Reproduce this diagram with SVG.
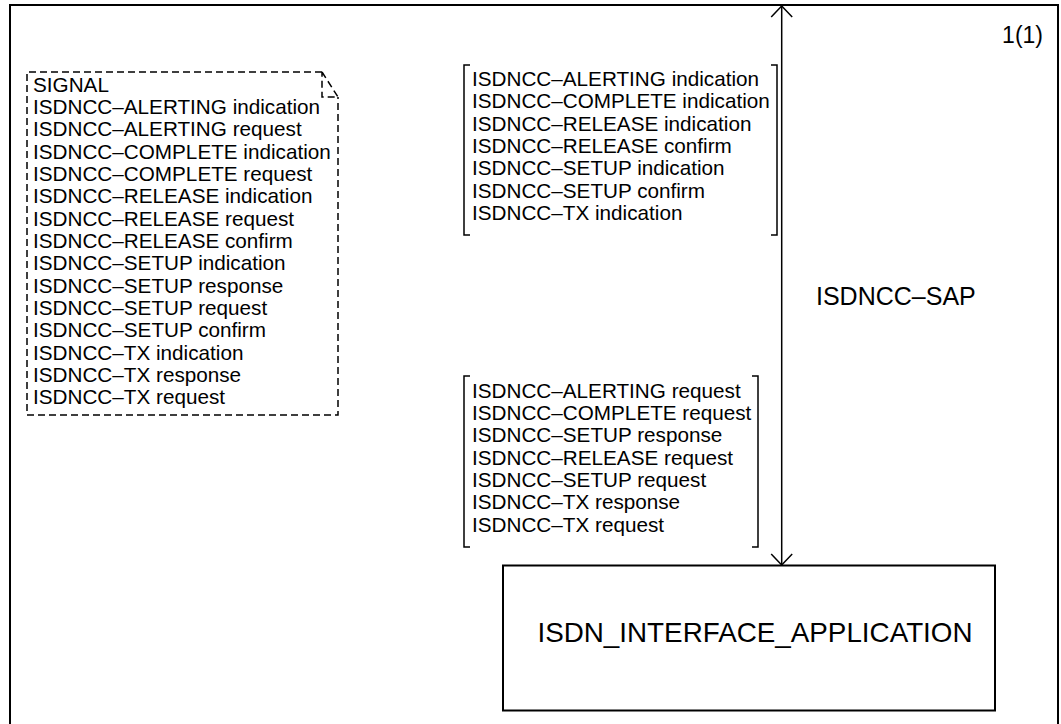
<svg xmlns="http://www.w3.org/2000/svg" width="1061" height="724" viewBox="0 0 1061 724">
<defs>
<style>
text{font-family:"Liberation Sans",Arial,sans-serif;fill:#000}
.l{font-size:20.7px}
.line{fill:none;stroke:#000;stroke-width:1.5}
.dash{fill:none;stroke:#000;stroke-width:1.5;stroke-dasharray:7 4}
</style>
<marker id="open" viewBox="0 0 14 24" refX="13" refY="12" markerWidth="14" markerHeight="24" markerUnits="userSpaceOnUse" orient="auto-start-reverse">
<path d="M2,1.5 L13,12 L2,22.5" fill="none" stroke="#000" stroke-width="1.5"/>
</marker>
</defs>
<rect id="frame" x="10" y="5" width="1048" height="730" fill="#fff" stroke="#000" stroke-width="2"/>
<text x="1043" y="43" font-size="23" text-anchor="end">1(1)</text>
<g id="signal-list">
<path class="dash" d="M322,72 L27,72 L27,415 L338,415 L338,97"/>
<path class="dash" d="M322,72 L338,97 L322,97 L322,72"/>
<text class="l" x="33" y="91.5">SIGNAL</text>
<text class="l" x="33" y="113.8">ISDNCC–ALERTING indication</text>
<text class="l" x="33" y="136.2">ISDNCC–ALERTING request</text>
<text class="l" x="33" y="158.5">ISDNCC–COMPLETE indication</text>
<text class="l" x="33" y="180.8">ISDNCC–COMPLETE request</text>
<text class="l" x="33" y="203.2">ISDNCC–RELEASE indication</text>
<text class="l" x="33" y="225.5">ISDNCC–RELEASE request</text>
<text class="l" x="33" y="247.8">ISDNCC–RELEASE confirm</text>
<text class="l" x="33" y="270.1">ISDNCC–SETUP indication</text>
<text class="l" x="33" y="292.5">ISDNCC–SETUP response</text>
<text class="l" x="33" y="314.8">ISDNCC–SETUP request</text>
<text class="l" x="33" y="337.1">ISDNCC–SETUP confirm</text>
<text class="l" x="33" y="359.5">ISDNCC–TX indication</text>
<text class="l" x="33" y="381.8">ISDNCC–TX response</text>
<text class="l" x="33" y="404.1">ISDNCC–TX request</text>
</g>
<g id="connectors">
<line class="line" x1="781.7" y1="6" x2="781.7" y2="565" marker-start="url(#open)" marker-end="url(#open)"/>
<text x="816" y="305" font-size="25">ISDNCC–SAP</text>
<g id="signals-up">
<path class="line" d="M470,65 L464,65 L464,235 L470,235 M771,65 L777,65 L777,235 L771,235"/>
<text class="l" x="472" y="86">ISDNCC–ALERTING indication</text>
<text class="l" x="472" y="108.3">ISDNCC–COMPLETE indication</text>
<text class="l" x="472" y="130.7">ISDNCC–RELEASE indication</text>
<text class="l" x="472" y="153">ISDNCC–RELEASE confirm</text>
<text class="l" x="472" y="175.3">ISDNCC–SETUP indication</text>
<text class="l" x="472" y="197.7">ISDNCC–SETUP confirm</text>
<text class="l" x="472" y="220">ISDNCC–TX indication</text>
</g>
<g id="signals-down">
<path class="line" d="M470,376 L464,376 L464,547 L470,547 M752,376 L758,376 L758,547 L752,547"/>
<text class="l" x="472" y="397.5">ISDNCC–ALERTING request</text>
<text class="l" x="472" y="419.8">ISDNCC–COMPLETE request</text>
<text class="l" x="472" y="442.2">ISDNCC–SETUP response</text>
<text class="l" x="472" y="464.5">ISDNCC–RELEASE request</text>
<text class="l" x="472" y="486.8">ISDNCC–SETUP request</text>
<text class="l" x="472" y="509.2">ISDNCC–TX response</text>
<text class="l" x="472" y="531.5">ISDNCC–TX request</text>
</g>
</g>
<g id="isdn-interface-application">
<rect x="503" y="565.5" width="492" height="145" fill="#fff" stroke="#000" stroke-width="2"/>
<text x="755" y="642" font-size="27.8" text-anchor="middle">ISDN_INTERFACE_APPLICATION</text>
</g>
</svg>
